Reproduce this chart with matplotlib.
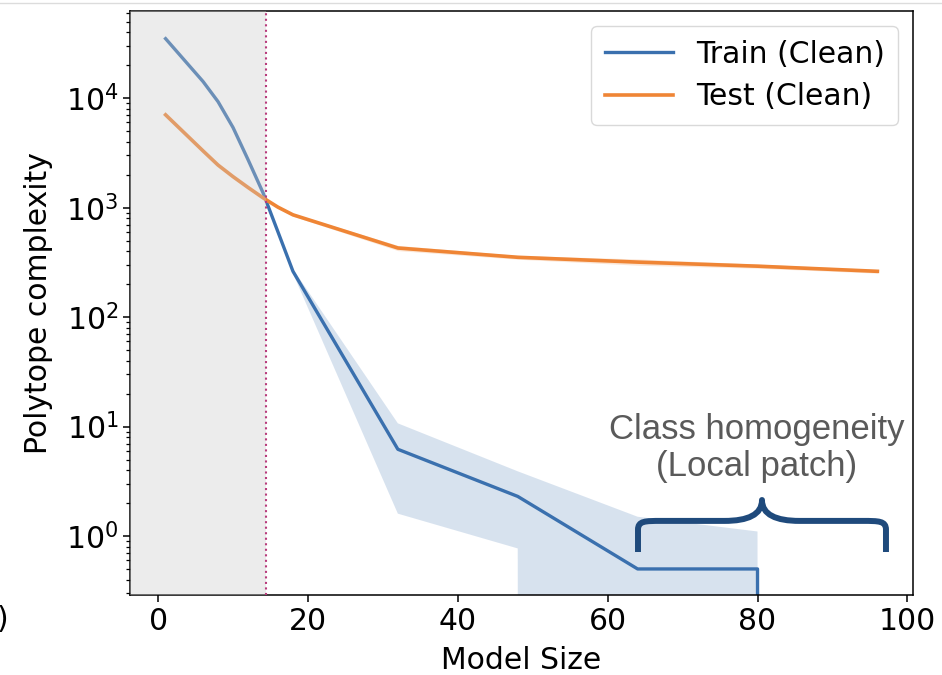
import matplotlib
matplotlib.use("Agg")
import matplotlib.pyplot as plt
from matplotlib.path import Path
from matplotlib.patches import PathPatch
from matplotlib.lines import Line2D

# ---- data -------------------------------------------------------------
model_sizes = [1, 6, 8, 10, 12, 14, 16, 18, 32, 48, 64, 80, 96]

train_mean = [35000, 14200, 9300, 5400, 2750, 1370, 600, 262, 6.2, 2.3, 0.5, 0.5, 0]
train_low = [34000, 13800, 9000, 5200, 2650, 1320, 575, 250, 1.6, 0.77, 0, 0, 0]
train_high = [36000, 14600, 9600, 5600, 2850, 1420, 625, 275, 10.7, 3.9, 1.5, 1.1, 0]

test_mean = [7050, 3300, 2450, 1920, 1530, 1230, 1010, 860, 428, 352, 318, 292, 262]
test_low = [6900, 3230, 2400, 1880, 1500, 1205, 985, 835, 405, 338, 298, 280, 252]
test_high = [7200, 3370, 2500, 1960, 1560, 1255, 1035, 885, 452, 366, 340, 305, 272]

series_labels = ["Train (Clean)", "Test (Clean)"]
interp_threshold = 14.36

# ---- style ------------------------------------------------------------
blue = "#3a70ae"
orange = "#ef8535"
brace_color = "#1f4a7c"
note_color = "#5a5a5a"
fs = 21.5

plt.rcParams["font.family"] = ["DejaVu Sans"]

fig = plt.figure(figsize=(9.42, 6.75), dpi=100)
ax = fig.add_axes([0.1380, 0.1185, 0.8312, 0.8645])

ax.set_yscale("log")

ax.fill_between(model_sizes, train_low, train_high, color=blue, alpha=0.2, lw=0)
ax.fill_between(model_sizes, test_low, test_high, color=orange, alpha=0.2, lw=0)
ax.plot(model_sizes, train_mean, color=blue, lw=2.4, label=series_labels[0])
ax.plot(model_sizes, test_mean, color=orange, lw=2.6, label=series_labels[1])

ax.set_xlim(-3.75, 100.75)
ax.set_ylim(0.289, 62000)

# shaded under-parameterised region (drawn over the curves, fading them)
ax.axvspan(ax.get_xlim()[0], interp_threshold, color="#c9c9c9", alpha=0.35,
           lw=0, zorder=3)
ax.axvline(interp_threshold, color="#b83c7c", ls=":", lw=1.5, zorder=4)

ax.set_xticks([0, 20, 40, 60, 80, 100])
ax.tick_params(axis="both", which="major", labelsize=fs, length=5, width=1.1)
ax.tick_params(axis="y", which="minor", length=2.8, width=0.9)
for s in ax.spines.values():
    s.set_linewidth(1.1)

ax.set_xlabel("Model Size", fontsize=fs, labelpad=7)
ax.set_ylabel("Polytope complexity", fontsize=fs, labelpad=9)

leg = ax.legend(loc="upper right", fontsize=fs, handlelength=2.3,
                handletextpad=0.75, borderpad=0.45, labelspacing=0.45)
leg.get_frame().set_edgecolor("#d0d0d0")


# curly brace in axes-fraction coordinates
def curly_brace(x0, x1, y_end, y_bar, y_tip, r):
    xm = 0.5 * (x0 + x1)
    verts = [
        (x0, y_end), (x0, y_bar - r * 0.5),
        (x0, y_bar), (x0 + r * 0.3, y_bar), (x0 + r, y_bar),
        (xm - r * 1.6, y_bar),
        (xm - r * 0.6, y_bar), (xm, y_bar + (y_tip - y_bar) * 0.3), (xm, y_tip),
        (xm, y_bar + (y_tip - y_bar) * 0.3), (xm + r * 0.6, y_bar), (xm + r * 1.6, y_bar),
        (x1 - r, y_bar),
        (x1 - r * 0.3, y_bar), (x1, y_bar), (x1, y_bar - r * 0.5),
        (x1, y_end),
    ]
    codes = [Path.MOVETO, Path.LINETO,
             Path.CURVE4, Path.CURVE4, Path.CURVE4,
             Path.LINETO,
             Path.CURVE4, Path.CURVE4, Path.CURVE4,
             Path.CURVE4, Path.CURVE4, Path.CURVE4,
             Path.LINETO,
             Path.CURVE4, Path.CURVE4, Path.CURVE4,
             Path.LINETO]
    return Path(verts, codes)


brace = PathPatch(curly_brace(0.6488, 0.9655, 0.0737, 0.1270, 0.1628, 0.03),
                  transform=ax.transAxes, fill=False, edgecolor=brace_color,
                  lw=4.3, capstyle="butt", joinstyle="round", zorder=5)
ax.add_patch(brace)

ax.text(0.80, 0.252, "Class homogeneity\n(Local patch)", transform=ax.transAxes,
        ha="center", va="center", fontsize=25, color=note_color,
        family=["Liberation Sans", "DejaVu Sans"], linespacing=1.12, zorder=6)

# thin rule along the top and the partial panel tag at the left edge
fig.add_artist(Line2D([0, 1], [0.9955, 0.9955], transform=fig.transFigure,
                      color="#dcdcdc", lw=1.0))
fig.text(-3 / 942, 0.0815, ")", ha="left", va="center", fontsize=fs)

fig.savefig("out.png", dpi=100, facecolor="white")
